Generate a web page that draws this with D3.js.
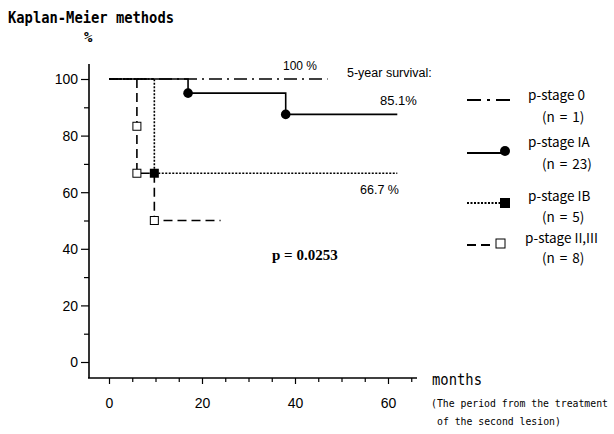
<!DOCTYPE html>
<html>
<head>
<meta charset="utf-8">
<script src="https://cdn.jsdelivr.net/npm/d3@7"></script>
<style>
  body { margin: 0; background: #fff; }
  text { fill: #000; }
</style>
</head>
<body>
<script>
// Dati (mesi, sopravvivenza %)
var stage0Time = [0, 47];
var stage0Surv = [100, 100];
var stageIATime = [0, 17, 38, 62];
var stageIASurv = [100, 95, 87.5, 87.5];
var stageIBTime = [0, 9.75, 62];
var stageIBSurv = [100, 66.7, 66.7];
var stageIITime = [0, 6, 6, 9.75, 24];
var stageIISurv = [100, 83.3, 66.7, 50, 50];

// marcatori (eventi)
var markIA = [[17, 95], [38, 87.5]];
var markIB = [[9.75, 66.7]];
var markII = [[6, 83.3], [6, 66.7], [9.75, 50]];

var xTicks = d3.range(0, 70, 5);
var xLabels = [0, 20, 40, 60];
var yTicks = d3.range(0, 110, 10);
var yLabels = [0, 20, 40, 60, 80, 100];

var legendNames = ["p-stage 0", "p-stage IA", "p-stage IB", "p-stage II,III"];
var legendN = ["(n = 1)", "(n = 23)", "(n = 5)", "(n = 8)"];

var svg = d3.select("body").append("svg")
  .attr("width", 614)
  .attr("height", 434);

var x = d3.scaleLinear().domain([0, 60]).range([109, 388]);
var y = d3.scaleLinear().domain([0, 100]).range([362, 79]);

// Assi
svg.append("line")
  .attr("x1", 89).attr("x2", 89)
  .attr("y1", 64).attr("y2", 378)
  .attr("stroke", "#000").attr("stroke-width", 1.6);
svg.append("line")
  .attr("x1", 88).attr("x2", 417)
  .attr("y1", 378).attr("y2", 378)
  .attr("stroke", "#000").attr("stroke-width", 1.6);

var yAxis = d3.axisLeft(y)
  .tickValues(yTicks)
  .tickSize(0)
  .tickFormat("");
var yG = svg.append("g").attr("transform", "translate(89,0)").call(yAxis);
yG.select(".domain").remove();
yG.selectAll(".tick line")
  .attr("x2", function (d) { return d % 20 === 0 ? -8 : -5; })
  .attr("stroke-width", 1.2);
yG.selectAll(".tick").filter(function (d) { return yLabels.indexOf(d) >= 0; })
  .append("text")
  .attr("x", -11).attr("dy", "0.35em")
  .attr("text-anchor", "end")
  .style("font", "14px 'Liberation Sans', Arial, sans-serif")
  .style("fill", "#000")
  .text(function (d) { return d; });

var xAxis = d3.axisBottom(x)
  .tickValues(xTicks)
  .tickSize(0)
  .tickFormat("");
var xG = svg.append("g").attr("transform", "translate(0,378)").call(xAxis);
xG.select(".domain").remove();
xG.selectAll(".tick line")
  .attr("y2", function (d) { return d % 20 === 0 ? 6 : 4; })
  .attr("stroke-width", 1.2);
xG.selectAll(".tick").filter(function (d) { return xLabels.indexOf(d) >= 0; })
  .append("text")
  .attr("y", 25).attr("dy", "0.35em")
  .attr("text-anchor", "middle")
  .style("font", "14px 'Liberation Sans', Arial, sans-serif")
  .style("fill", "#000")
  .text(function (d) { return d; });

// Curve a gradini
function stepData(times, surv) {
  return times.map(function (t, i) { return [t, surv[i]]; });
}
var stepLine = d3.line()
  .x(function (d) { return x(d[0]); })
  .y(function (d) { return y(d[1]); })
  .curve(d3.curveStepAfter);

var curves = [
  { data: stepData(stage0Time, stage0Surv), dash: "13,5,2,5" },
  { data: stepData(stageIATime, stageIASurv), dash: null },
  { data: stepData(stageIBTime, stageIBSurv), dash: "2,1.5" },
  { data: stepData(stageIITime, stageIISurv), dash: "9,5" }
];

svg.selectAll("path.curve")
  .data(curves)
  .enter()
  .append("path")
  .attr("class", "curve")
  .attr("d", function (d) { return stepLine(d.data); })
  .attr("fill", "none")
  .attr("stroke", "#000")
  .attr("stroke-width", 1.6)
  .attr("stroke-dasharray", function (d) { return d.dash; });

// Marcatori
svg.selectAll("circle.mIA")
  .data(markIA).enter().append("circle")
  .attr("cx", function (d) { return x(d[0]); })
  .attr("cy", function (d) { return y(d[1]); })
  .attr("r", 4.8).attr("fill", "#000");

svg.selectAll("rect.mIB")
  .data(markIB).enter().append("rect")
  .attr("x", function (d) { return x(d[0]) - 4.5; })
  .attr("y", function (d) { return y(d[1]) - 4.5; })
  .attr("width", 9).attr("height", 9).attr("fill", "#000");

svg.selectAll("rect.mII")
  .data(markII).enter().append("rect")
  .attr("x", function (d) { return x(d[0]) - 4; })
  .attr("y", function (d) { return y(d[1]) - 4; })
  .attr("width", 8).attr("height", 8)
  .attr("fill", "#fff").attr("stroke", "#000").attr("stroke-width", 1);

// Legenda
var legY = [100, 153, 203, 245];
var legNameY = [95, 142, 196, 238];
var legNY = [117, 164, 217, 258];

svg.selectAll("path.leg")
  .data(curves).enter().append("line")
  .attr("x1", 467)
  .attr("x2", function (d, i) { return i === 0 ? 510 : (i === 3 ? 495 : 503); })
  .attr("y1", function (d, i) { return legY[i]; })
  .attr("y2", function (d, i) { return legY[i]; })
  .attr("stroke", "#000").attr("stroke-width", 2)
  .attr("stroke-dasharray", function (d, i) { return i === 0 ? "14,6,3,6" : (i === 3 ? "9,5" : d.dash); });

svg.append("circle").attr("cx", 505).attr("cy", legY[1] - 2).attr("r", 5).attr("fill", "#000");
svg.append("rect").attr("x", 500).attr("y", legY[2] - 5).attr("width", 10).attr("height", 10).attr("fill", "#000");
svg.append("rect").attr("x", 496).attr("y", legY[3] - 6).attr("width", 9).attr("height", 9)
  .attr("fill", "#fff").attr("stroke", "#000");

svg.selectAll("text.legName")
  .data(legendNames).enter().append("text")
  .attr("x", function (d, i) { return i === 3 ? 525 : 528; })
  .attr("y", function (d, i) { return legNameY[i]; })
  .attr("dy", "0.35em")
  .style("font", "13.5px 'Noto Sans CJK JP', 'Noto Sans', sans-serif")
  .text(function (d) { return d; });

svg.selectAll("text.legN")
  .data(legendN).enter().append("text")
  .attr("x", 542)
  .attr("y", function (d, i) { return legNY[i]; })
  .attr("dy", "0.35em")
  .style("font", "13.5px 'Noto Sans CJK JP', 'Noto Sans', sans-serif")
  .style("word-spacing", "2px")
  .text(function (d) { return d; });

// Testi
svg.append("text")
  .attr("x", 8).attr("y", 17).attr("dy", "0.35em")
  .attr("textLength", 166).attr("lengthAdjust", "spacingAndGlyphs")
  .style("font", "bold 16px 'DejaVu Sans Mono', monospace")
  .text("Kaplan-Meier methods");
svg.append("text")
  .attr("x", 84).attr("y", 37).attr("dy", "0.35em")
  .style("font", "bold 14px 'DejaVu Sans Mono', monospace")
  .text("%");

svg.append("text")
  .attr("x", 283).attr("y", 66).attr("dy", "0.35em")
  .style("font", "12px 'Liberation Sans', Arial, sans-serif")
  .text("100 %");
svg.append("text")
  .attr("x", 347).attr("y", 73).attr("dy", "0.35em")
  .style("font", "12.5px 'Liberation Sans', Arial, sans-serif")
  .text("5-year survival:");
svg.append("text")
  .attr("x", 380).attr("y", 100).attr("dy", "0.35em")
  .style("font", "13px 'Liberation Sans', Arial, sans-serif")
  .text("85.1%");
svg.append("text")
  .attr("x", 360).attr("y", 190).attr("dy", "0.35em")
  .style("font", "12.5px 'Liberation Sans', Arial, sans-serif")
  .text("66.7 %");

svg.append("text")
  .attr("x", 272).attr("y", 255).attr("dy", "0.35em")
  .style("font", "bold 15px 'Liberation Serif', 'Times New Roman', serif")
  .text("p = 0.0253");

svg.append("text")
  .attr("x", 432).attr("y", 380).attr("dy", "0.35em")
  .attr("textLength", 50).attr("lengthAdjust", "spacingAndGlyphs")
  .style("font", "15px 'DejaVu Sans Mono', monospace")
  .text("months");
svg.append("text")
  .attr("x", 431).attr("y", 404).attr("dy", "0.35em")
  .style("font", "9.8px 'DejaVu Sans Mono', monospace")
  .text("(The period from the treatment");
svg.append("text")
  .attr("x", 437).attr("y", 422).attr("dy", "0.35em")
  .style("font", "9.8px 'DejaVu Sans Mono', monospace")
  .text("of the second lesion)");
</script>
</body>
</html>
